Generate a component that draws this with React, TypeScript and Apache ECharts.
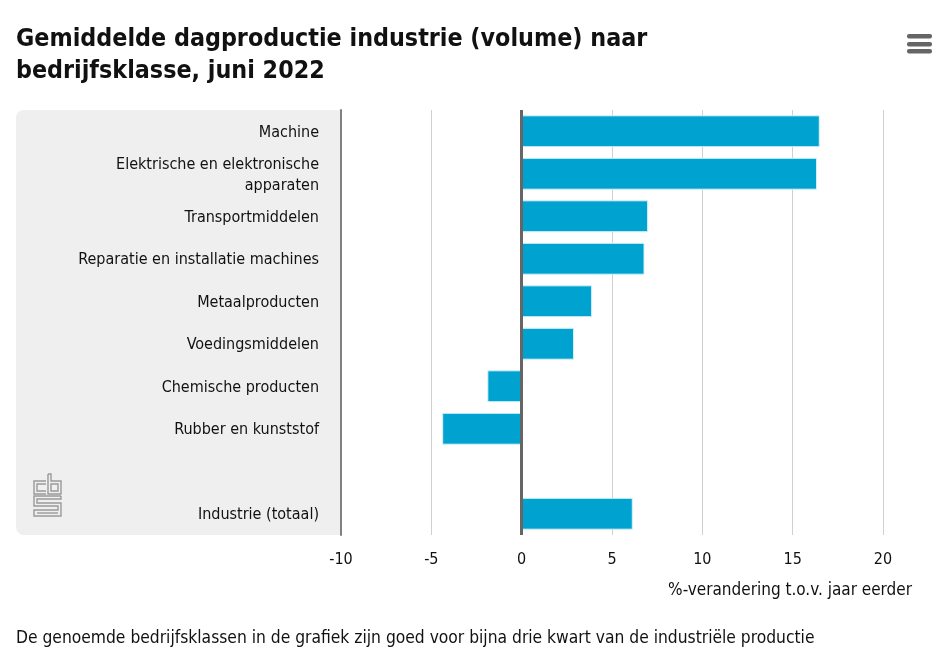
import React, { useEffect, useRef } from "react";
import * as echarts from "echarts";

const categories = [
  "Machine",
  "Elektrische en elektronische\napparaten",
  "Transportmiddelen",
  "Reparatie en installatie machines",
  "Metaalproducten",
  "Voedingsmiddelen",
  "Chemische producten",
  "Rubber en kunststof",
  "",
  "Industrie (totaal)",
];
const values: (number | null)[] = [16.5, 16.35, 7.0, 6.8, 3.9, 2.9, -1.9, -4.4, null, 6.15];
const titleText = "Gemiddelde dagproductie industrie (volume) naar\nbedrijfsklasse, juni 2022";
const axisName = "%-verandering t.o.v. jaar eerder";
const footer =
  "De genoemde bedrijfsklassen in de grafiek zijn goed voor bijna drie kwart van de industriële productie";

const FONT = "'DejaVu Sans Condensed', 'DejaVu Sans', sans-serif";

export default function App() {
  const ref = useRef<HTMLDivElement>(null);
  useEffect(() => {
    const chart = echarts.init(ref.current!, null, { renderer: "svg" });
    const logoStroke = { stroke: "#9a9a9a", lineWidth: 1.4, fill: "none" };
    chart.setOption({
      animation: false,
      textStyle: { fontFamily: FONT },
      title: {
        text: titleText,
        left: 11,
        top: 16,
        textStyle: { fontFamily: FONT, fontSize: 24.8, fontWeight: "bold", color: "#111", lineHeight: 32 },
      },
      grid: { left: 341, right: 66, top: 110, bottom: 132 },
      xAxis: {
        type: "value",
        min: -10,
        max: 20,
        interval: 5,
        axisLine: { show: false },
        axisTick: { show: false },
        splitLine: { show: true, lineStyle: { color: "#d0d0d0", width: 1 } },
        axisLabel: { color: "#111", fontSize: 16, margin: 15, fontFamily: FONT },
      },
      yAxis: {
        type: "category",
        inverse: true,
        data: categories,
        axisLine: { show: true, onZero: false, lineStyle: { color: "#808080", width: 2 } },
        axisTick: { show: false },
        axisLabel: { color: "#111", fontSize: 16, margin: 22, lineHeight: 21, fontFamily: FONT, align: "right" },
      },
      graphic: [
        {
          type: "rect",
          shape: { x: 16, y: 110, width: 325, height: 425, r: [8, 0, 0, 8] },
          style: { fill: "#efefef" },
          z: -10,
          silent: true,
        },
        {
          type: "group",
          x: 34,
          y: 474,
          children: [
            { type: "polyline", shape: { points: [[12, 7], [0, 7], [0, 20], [12, 20]] }, style: logoStroke },
            { type: "polyline", shape: { points: [[12, 10], [3, 10], [3, 17], [12, 17]] }, style: logoStroke },
            { type: "polyline", shape: { points: [[14, 0], [14, 20], [27, 20], [27, 7], [17, 7], [17, 0], [14, 0]] }, style: logoStroke },
            { type: "rect", shape: { x: 17, y: 10, width: 7, height: 7 }, style: logoStroke },
            {
              type: "polyline",
              shape: { points: [[27, 22], [0, 22], [0, 32], [24, 32], [24, 36], [0, 36], [0, 42], [27, 42], [27, 29], [3, 29], [3, 25], [27, 25], [27, 22]] },
              style: logoStroke,
            },
            { type: "polyline", shape: { points: [[3, 39], [24, 39]] }, style: logoStroke },
          ],
          z: 5,
          silent: true,
        },
        {
          type: "group",
          x: 907,
          y: 34,
          children: [0, 8, 15].map((dy) => ({
            type: "rect",
            shape: { x: 0, y: dy, width: 25, height: 4.5, r: 2 },
            style: { fill: "#666" },
          })),
        },
        {
          type: "text",
          right: 37,
          top: 580,
          style: { text: axisName, fontSize: 17, fill: "#111", fontFamily: FONT },
        },
        {
          type: "text",
          left: 16,
          top: 628,
          style: { text: footer, fontSize: 17.3, fill: "#111", fontFamily: FONT },
        },
      ],
      series: [
        {
          type: "bar",
          data: values,
          barCategoryGap: "25%",
          itemStyle: { color: "#00a2cf", borderColor: "#d9f1f8", borderWidth: 1 },
          markLine: {
            silent: true,
            symbol: "none",
            label: { show: false },
            lineStyle: { color: "#666", width: 3, type: "solid" },
            data: [{ xAxis: 0 }],
            z: 10,
          },
        },
      ],
    });
    return () => chart.dispose();
  }, []);
  return <div ref={ref} style={{ position: "fixed", left: 0, top: 0, width: 949, height: 667 }} />;
}
